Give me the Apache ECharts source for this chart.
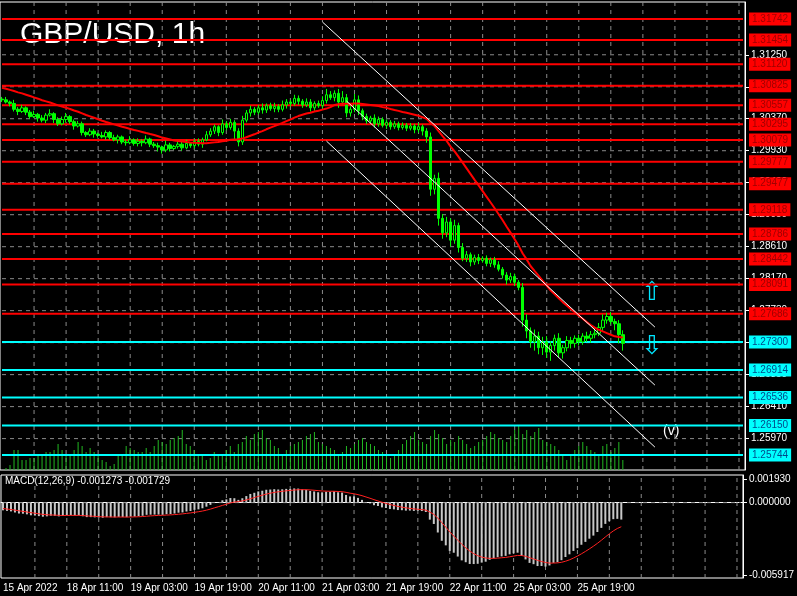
<!DOCTYPE html>
<html><head><meta charset="utf-8">
<script src="https://cdn.jsdelivr.net/npm/echarts@6/dist/echarts.min.js"></script>
<style>html,body{margin:0;padding:0;background:#000}#c{width:797px;height:596px}</style>
</head><body><div id="c"></div>
<script>
const prevCloses=[1.3092,1.3090,1.3094,1.3088,1.3091,1.3086,1.3089,1.3084,1.3087,1.3082,1.3085,1.3080,1.3083,1.3078,1.3081,1.3076,1.3079,1.3074,1.3077,1.3072,1.3070,1.3068,1.3066,1.3064];
const closes=[
1.3063,1.3060,1.3058,1.3050,1.3047,1.3052,1.3046,
1.3040,1.3043,1.3038,1.3035,1.3042,1.3044,1.3036,
1.3030,1.3036,1.3040,1.3033,1.3027,1.3030,1.3018,
1.3015,1.3020,1.3016,1.3014,1.3012,1.3018,1.3011,
1.3008,1.3012,1.3005,1.3004,1.3008,1.3003,1.3006,
1.3004,1.3009,1.3002,1.3000,1.2998,1.2994,1.3001,
1.2996,1.2999,1.3002,1.2997,1.3003,1.3000,1.3006,
1.3002,1.3008,1.3015,1.3020,1.3026,1.3018,1.3030,
1.3025,1.3032,1.3020,1.3005,1.3035,1.3045,1.3050,
1.3046,1.3052,1.3049,1.3055,1.3051,1.3054,1.3050,
1.3056,1.3060,1.3058,1.3065,1.3061,1.3056,1.3060,
1.3052,1.3058,1.3055,1.3062,1.3070,1.3066,1.3072,
1.3060,1.3066,1.3045,1.3050,1.3063,1.3048,1.3040,
1.3034,1.3038,1.3030,1.3036,1.3028,1.3032,1.3026,
1.3030,1.3025,1.3028,1.3024,1.3027,1.3022,1.3026,
1.3020,1.3012,1.2940,1.2955,1.2900,1.2880,1.2895,
1.2870,1.2890,1.2860,1.2845,1.2850,1.2840,1.2846,
1.2842,1.2845,1.2838,1.2843,1.2836,1.2830,1.2822,
1.2815,1.2820,1.2812,1.2805,1.2760,1.2745,1.2730,
1.2738,1.2722,1.2730,1.2716,1.2725,1.2735,1.2715,
1.2722,1.2732,1.2728,1.2735,1.2730,1.2738,1.2735,
1.2740,1.2742,1.2750,1.2760,1.2765,1.2758,1.2755,
1.2740,1.2728];
const wickUp=[3,4,2,5,3,4,2,3,5,2,4,3,6,2,3,4,5,2,3,4,3,2,4,3,2,5,3,2,4,3,2,3,5,2,4,3,5,2,3,4,2,6,3,2,4,3,5,2,3,4,3,5,4,3,2,6,4,5,3,4,6,4,5,3,4,6,3,4,5,3,6,4,3,5,4,3,5,4,3,4,6,8,5,4,6,9,5,4,8,6,3,4,3,5,4,3,4,3,4,3,4,3,4,3,5,3,4,6,5,8,6,7,5,8,4,6,5,3,4,5,3,4,3,4,5,3,4,5,4,3,6,8,5,9,6,7,8,6,5,7,4,6,5,4,5,4,6,5,7,6,8,5,6,4,5,6];
const wickDn=[3,2,4,3,5,2,4,3,2,5,3,4,2,5,3,2,4,3,5,2,4,3,2,5,3,2,4,3,2,5,3,4,2,3,4,5,2,4,3,6,5,3,4,2,3,4,2,3,4,3,5,2,3,4,5,3,4,3,12,6,4,3,5,4,3,5,4,3,5,4,3,5,4,3,5,4,3,5,4,3,5,4,3,5,8,4,6,5,4,6,5,4,3,5,4,3,5,4,3,4,3,4,3,5,4,6,8,9,7,10,8,6,9,5,7,4,5,6,4,5,3,4,5,4,3,5,6,4,5,4,9,10,8,12,9,10,8,12,7,6,8,5,7,6,5,4,5,6,5,4,6,5,4,9,12,10];
const volumes=[0,2,5,20,20,10,10,12,12,14,16,18,18,20,26,20,16,14,20,28,24,18,22,18,14,10,8,4,6,14,16,24,22,20,18,18,22,18,24,30,28,26,30,32,34,40,26,24,20,16,14,10,12,18,16,14,20,24,18,26,28,34,30,36,38,40,32,30,24,22,16,20,24,26,28,30,34,36,38,28,26,24,22,20,16,18,24,22,26,30,32,28,26,24,20,18,14,12,16,20,26,30,34,38,30,28,26,34,40,36,32,26,30,28,34,30,26,22,24,28,30,34,38,36,32,30,28,34,40,44,36,40,34,38,42,30,28,26,24,20,14,10,16,20,24,28,24,20,18,16,24,26,18,22,28,10];
const xLabels=["15 Apr 2022","18 Apr 11:00","19 Apr 03:00","19 Apr 19:00","20 Apr 11:00","21 Apr 03:00","21 Apr 19:00","22 Apr 11:00","25 Apr 03:00","25 Apr 19:00"];
const priceTicks=[1.31250,1.30810,1.30370,1.29930,1.29490,1.29050,1.28610,1.28170,1.27730,1.27290,1.26850,1.26410,1.25970];
const redLevels=[1.31742,1.31454,1.31120,1.30825,1.30557,1.30295,1.30079,1.29777,1.29477,1.29118,1.28786,1.28442,1.28091,1.27686];
const cyanLevels=[1.27300,1.26914,1.26536,1.26150,1.25744];
const macdTicks=[0.001930,0,-0.005917];
const channels=[[[80,1.31701],[163,1.27504]],[[86,1.30614],[163,1.26706]],[[81,1.30063],[163,1.25853]]];

const N=186;
const cats=[];for(let i=0;i<N;i++){cats.push(i%16===0&&xLabels[i/16]?xLabels[i/16]:'');}
const candle=closes.map((c,i)=>{const o=i===0?prevCloses[prevCloses.length-1]:closes[i-1];
  return [o,c,Math.min(o,c)-wickDn[i]*0.0001,Math.max(o,c)+wickUp[i]*0.0001];});
const all=prevCloses.concat(closes);
const ma=closes.map((c,i)=>{const k=i+prevCloses.length;let s=0;for(let j=k-23;j<=k;j++)s+=all[Math.max(j,0)];return +(s/24).toFixed(5);});
function ema(arr,p){const a=2/(p+1);const out=[];let e=arr[0];arr.forEach(v=>{e=a*v+(1-a)*e;out.push(e);});return out;}
const e12=ema(all,12),e26=ema(all,26);const macdAll=all.map((v,i)=>e12[i]-e26[i]);
const sigAll=(function(){const a=2/10;let s=macdAll[0];return macdAll.map(m=>{s=a*m+(1-a)*s;return s;});})();
const macd=macdAll.slice(prevCloses.length),signal=sigAll.slice(prevCloses.length);

const font='Liberation Sans';
function hline(v,color,width,dash,xi,yi,z,label,fg){
  return {type:'line',xAxisIndex:xi,yAxisIndex:yi,data:[[0,v],[N-1,v]],showSymbol:false,silent:true,z:z,
    lineStyle:{color:color,width:width,type:dash},
    endLabel:label?{show:true,distance:6,formatter:v.toFixed(5),backgroundColor:color,color:fg,fontSize:10,fontFamily:font,padding:[2,3,1,3]}:{show:false}};
}
function vline(i,xi,yi,lo,hi){
  return {type:'line',xAxisIndex:xi,yAxisIndex:yi,data:[[i,lo],[i,hi]],showSymbol:false,silent:true,z:1,
    lineStyle:{color:'#8a8a8a',width:1,type:[4,4]}};
}
const series=[];
priceTicks.forEach(v=>series.push(hline(v,'#8a8a8a',1,[4,4],0,0,1,false)));
for(let i=8;i<N;i+=8){series.push(vline(i-0.5,0,0,1.25538,1.31976));series.push(vline(i-0.5,2,2,-0.00617,0.00226));}
series.push({type:'bar',xAxisIndex:1,yAxisIndex:1,data:volumes,barWidth:1,itemStyle:{color:'#22b822'},silent:true,z:2});
redLevels.forEach(v=>series.push(hline(v,'#ff0000',2,'solid',0,0,3,true,'#a00000')));
cyanLevels.forEach(v=>series.push(hline(v,'#00ffff',2,'solid',0,0,3,true,'#004a8a')));
series.push({type:'candlestick',xAxisIndex:0,yAxisIndex:0,data:candle,barWidth:3,z:4,
   itemStyle:{color:'#000',color0:'#00ff00',borderColor:'#00ff00',borderColor0:'#00ff00',borderWidth:1}});
series.push({type:'line',xAxisIndex:0,yAxisIndex:0,data:ma,showSymbol:false,lineStyle:{color:'#ff0000',width:2},z:5});
channels.forEach(c=>series.push({type:'line',xAxisIndex:0,yAxisIndex:0,data:c,showSymbol:false,lineStyle:{color:'#ffffff',width:1},z:6}));
series.push(hline(0,'#8a8a8a',1,[4,4],2,2,1,false));
series.push({type:'bar',xAxisIndex:2,yAxisIndex:2,data:macd.map(v=>+v.toFixed(6)),barWidth:2,itemStyle:{color:'#c8c8c8'},z:2});
series.push({type:'line',xAxisIndex:2,yAxisIndex:2,data:signal.map(v=>+v.toFixed(6)),showSymbol:false,lineStyle:{color:'#ff2020',width:1},z:3});

const chart=echarts.init(document.getElementById('c'));
chart.setOption({
 backgroundColor:'#000',animation:false,
 grid:[{left:0,right:52,top:2,height:468,show:true,borderColor:'#fff',borderWidth:1},
       {left:0,right:52,top:420,height:50},
       {left:0,right:52,top:475,height:103,show:true,borderColor:'#fff',borderWidth:1}],
 xAxis:[{type:'category',data:cats,gridIndex:0,boundaryGap:true,axisLabel:{show:false},axisTick:{show:false},axisLine:{show:false},splitLine:{show:false}},
        {type:'category',data:cats,gridIndex:1,show:false},
        {type:'category',data:cats,gridIndex:2,boundaryGap:true,axisLine:{lineStyle:{color:'#fff'}},axisTick:{show:false},splitLine:{show:false},
          axisLabel:{interval:0,color:'#fff',fontSize:10,fontFamily:font,align:'left',margin:5,formatter:v=>v}}],
 yAxis:[{type:'value',gridIndex:0,position:'right',min:1.25538,max:1.31976,splitLine:{show:false},
          axisLine:{show:true,lineStyle:{color:'#fff'}},axisTick:{show:true,customValues:priceTicks,length:4,lineStyle:{color:'#fff'}},
          axisLabel:{customValues:priceTicks,color:'#fff',fontSize:10,fontFamily:font,margin:6,formatter:v=>v.toFixed(5)}},
        {type:'value',gridIndex:1,min:0,max:50,show:false},
        {type:'value',gridIndex:2,position:'right',min:-0.00617,max:0.00226,splitLine:{show:false},
          axisLine:{show:true,lineStyle:{color:'#fff'}},axisTick:{show:true,customValues:macdTicks,length:4,lineStyle:{color:'#fff'}},
          axisLabel:{customValues:macdTicks,color:'#fff',fontSize:10,fontFamily:font,margin:6,formatter:v=>v.toFixed(6)}}],
 series:series,
 graphic:[
  {type:'text',left:20,top:20,style:{text:'GBP/USD, 1h',fill:'#fff',font:'30px "Liberation Sans"'}},
  {type:'text',left:5,top:476,style:{text:'MACD(12,26,9) -0.001273 -0.001729',fill:'#fff',font:'10px "Liberation Sans"'}},
  {type:'text',left:641,top:280,style:{text:'⇧',fill:'#00e5ff',font:'26px "DejaVu Sans"'}},
  {type:'text',left:641,top:334,style:{text:'⇩',fill:'#00e5ff',font:'26px "DejaVu Sans"'}},
  {type:'text',left:663,top:424,style:{text:'(v)',fill:'#fff',font:'14px "Liberation Sans"'}}
 ]
});
</script></body></html>
